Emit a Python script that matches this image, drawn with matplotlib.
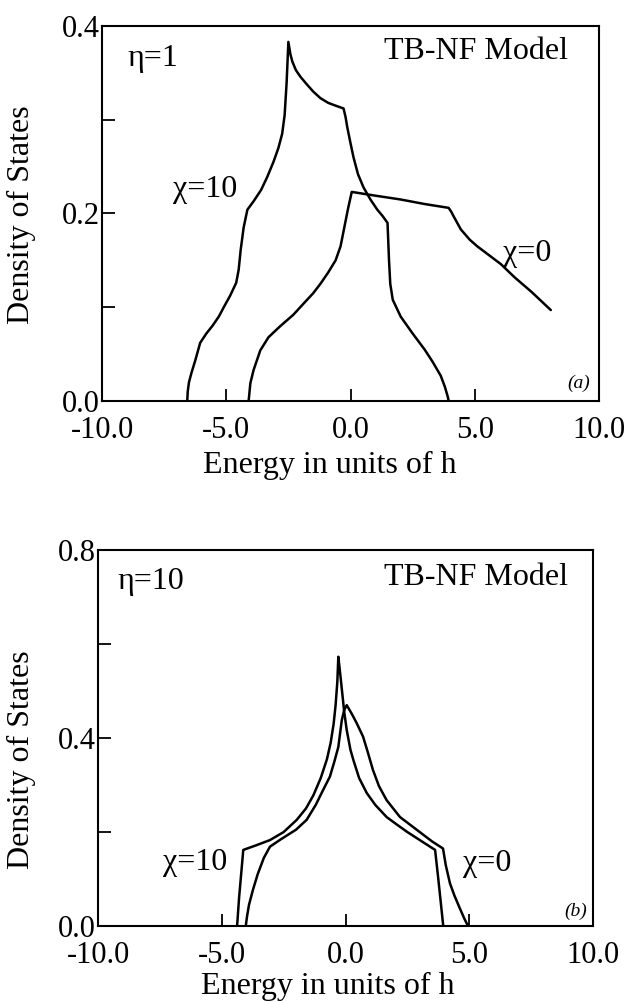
import matplotlib
matplotlib.use("Agg")
import matplotlib.pyplot as plt
from matplotlib.ticker import MultipleLocator, FormatStrFormatter

plt.rcParams['font.family'] = ['Liberation Serif', 'DejaVu Serif']
plt.rcParams['axes.unicode_minus'] = False

# ---------------- Panel (a): eta = 1 ----------------
a_chi10_E = [-6.57, -6.55, -6.5, -6.4, -6.25, -6.05, -5.8, -5.56, -5.3, -5.08, -4.85, -4.6,
             -4.5, -4.42, -4.3, -4.15, -3.9, -3.6, -3.35, -3.1, -2.9, -2.75, -2.65, -2.57,
             -2.5, -2.42, -2.34, -2.2, -2.02, -1.8, -1.5, -1.21, -0.9, -0.6, -0.28, -0.2,
             -0.13, 0.0, 0.12, 0.3, 0.52, 0.8, 1.08, 1.3, 1.49, 1.52, 1.55, 1.6, 1.7, 2.02,
             2.5, 2.98, 3.3, 3.63, 3.8, 3.92, 3.95]
a_chi10_D = [0.0, 0.010, 0.020, 0.030, 0.043, 0.062, 0.072, 0.080, 0.090, 0.101, 0.112, 0.126,
             0.140, 0.161, 0.185, 0.204, 0.213, 0.225, 0.239, 0.255, 0.270, 0.285, 0.305, 0.340,
             0.383, 0.370, 0.362, 0.353, 0.346, 0.339, 0.330, 0.323, 0.318, 0.315, 0.312, 0.303,
             0.292, 0.275, 0.260, 0.242, 0.228, 0.215, 0.204, 0.197, 0.190, 0.170, 0.150, 0.125,
             0.108, 0.090, 0.072, 0.055, 0.042, 0.027, 0.015, 0.004, 0.0]

a_chi0_E = [-4.1, -4.07, -4.03, -3.9, -3.63, -3.3, -2.82, -2.3, -1.85, -1.5, -1.21, -0.9,
            -0.6, -0.4, -0.25, -0.1, 0.05, 1.0, 2.0, 3.0, 3.95, 4.05, 4.17, 4.44, 4.8, 5.1,
            5.6, 6.05, 6.6, 7.3, 8.06]
a_chi0_D = [0.0, 0.008, 0.019, 0.033, 0.054, 0.068, 0.080, 0.092, 0.105, 0.115, 0.125, 0.137,
            0.150, 0.165, 0.185, 0.205, 0.223, 0.219, 0.215, 0.210, 0.206, 0.202, 0.196, 0.183,
            0.172, 0.165, 0.155, 0.146, 0.132, 0.116, 0.097]

# ---------------- Panel (b): eta = 10 ----------------
b_chi10_E = [-4.38, -4.3, -4.2, -4.13, -3.6, -3.05, -2.5, -1.97, -1.6, -1.3, -1.0, -0.75,
             -0.6, -0.48, -0.4, -0.33, -0.29, -0.22, -0.15, -0.05, 0.05, 0.2, 0.32, 0.55,
             0.86, 1.2, 1.66, 2.1, 2.5, 3.0, 3.62, 3.75, 3.85, 3.95]
b_chi10_D = [0.0, 0.060, 0.120, 0.162, 0.172, 0.183, 0.200, 0.226, 0.250, 0.278, 0.315, 0.355,
             0.390, 0.430, 0.470, 0.520, 0.573, 0.540, 0.505, 0.455, 0.417, 0.375, 0.353, 0.315,
             0.283, 0.258, 0.232, 0.215, 0.200, 0.183, 0.162, 0.100, 0.050, 0.0]

b_chi0_E = [-4.03, -3.98, -3.9, -3.74, -3.55, -3.3, -3.05, -2.6, -2.0, -1.57, -1.2, -0.9,
            -0.63, -0.45, -0.29, -0.15, -0.05, 0.05, 0.25, 0.45, 0.71, 0.9, 1.11, 1.35, 1.66,
            2.2, 3.0, 3.5, 3.94, 4.05, 4.22, 4.4, 4.6, 4.8, 4.95]
b_chi0_D = [0.0, 0.020, 0.045, 0.077, 0.110, 0.145, 0.169, 0.185, 0.205, 0.226, 0.258, 0.290,
            0.318, 0.350, 0.381, 0.438, 0.460, 0.470, 0.452, 0.432, 0.403, 0.370, 0.332, 0.298,
            0.268, 0.232, 0.200, 0.180, 0.165, 0.130, 0.091, 0.065, 0.040, 0.016, 0.0]

x_ticks = [-10.0, -5.0, 0.0, 5.0, 10.0]

FS = 23
TFS = 22
LW = 1.8

fig = plt.figure(figsize=(6.25, 10.02), dpi=100)
ax1 = fig.add_axes([0.1632, 0.5998, 0.7952, 0.3743])
ax2 = fig.add_axes([0.1568, 0.0758, 0.7920, 0.3752])


def style(ax, ymax, ymajor, yminor):
    ax.set_xlim(-10, 10)
    ax.set_ylim(0, ymax)
    ax.set_xticks(x_ticks)
    ax.xaxis.set_major_formatter(FormatStrFormatter('%.1f'))
    ax.yaxis.set_major_locator(MultipleLocator(ymajor))
    ax.yaxis.set_minor_locator(MultipleLocator(yminor))
    ax.yaxis.set_major_formatter(FormatStrFormatter('%.1f'))
    ax.tick_params(axis='x', which='both', direction='in', length=9, width=1.3,
                   labelsize=TFS, pad=11, top=False, bottom=True)
    ax.tick_params(axis='y', which='both', direction='in', length=9, width=1.3,
                   labelsize=TFS, pad=1.5, left=True, right=False)
    for s in ax.spines.values():
        s.set_linewidth(1.5)


style(ax1, 0.4, 0.2, 0.1)
style(ax2, 0.8, 0.4, 0.2)

for ax, (E, D) in [(ax1, (a_chi10_E, a_chi10_D)), (ax1, (a_chi0_E, a_chi0_D)),
                   (ax2, (b_chi10_E, b_chi10_D)), (ax2, (b_chi0_E, b_chi0_D))]:
    ax.plot(E, D, color='black', lw=LW, solid_joinstyle='round', solid_capstyle='round')

# Panel (a) annotations
ax1.text(0.052, 0.912, 'η=1', transform=ax1.transAxes, fontsize=FS, va='center', ha='left')
ax1.text(0.938, 0.933, 'TB-NF Model', transform=ax1.transAxes, fontsize=FS, va='center', ha='right')
ax1.text(0.143, 0.565, 'χ=10', transform=ax1.transAxes, fontsize=FS, va='center', ha='left')
ax1.text(0.807, 0.392, 'χ=0', transform=ax1.transAxes, fontsize=FS, va='center', ha='left')
ax1.text(0.982, 0.047, '(a)', transform=ax1.transAxes, fontsize=14, va='center', ha='right',
         style='italic')

# Panel (b) annotations
ax2.text(0.040, 0.917, 'η=10', transform=ax2.transAxes, fontsize=FS, va='center', ha='left')
ax2.text(0.949, 0.928, 'TB-NF Model', transform=ax2.transAxes, fontsize=FS, va='center', ha='right')
ax2.text(0.131, 0.170, 'χ=10', transform=ax2.transAxes, fontsize=FS, va='center', ha='left')
ax2.text(0.737, 0.167, 'χ=0', transform=ax2.transAxes, fontsize=FS, va='center', ha='left')
ax2.text(0.988, 0.040, '(b)', transform=ax2.transAxes, fontsize=14, va='center', ha='right',
         style='italic')

# Axis labels
fig.text(0.035, 1 - 215 / 1002, 'Density of States', rotation=90, fontsize=FS,
         ha='center', va='center')
fig.text(0.035, 1 - 760 / 1002, 'Density of States', rotation=90, fontsize=FS,
         ha='center', va='center')
fig.text(330 / 625, 1 - 465 / 1002, 'Energy in units of h', fontsize=FS, ha='center', va='center')
fig.text(328 / 625, 1 - 986 / 1002, 'Energy in units of h', fontsize=FS, ha='center', va='center')

fig.savefig('out.png', dpi=100)
